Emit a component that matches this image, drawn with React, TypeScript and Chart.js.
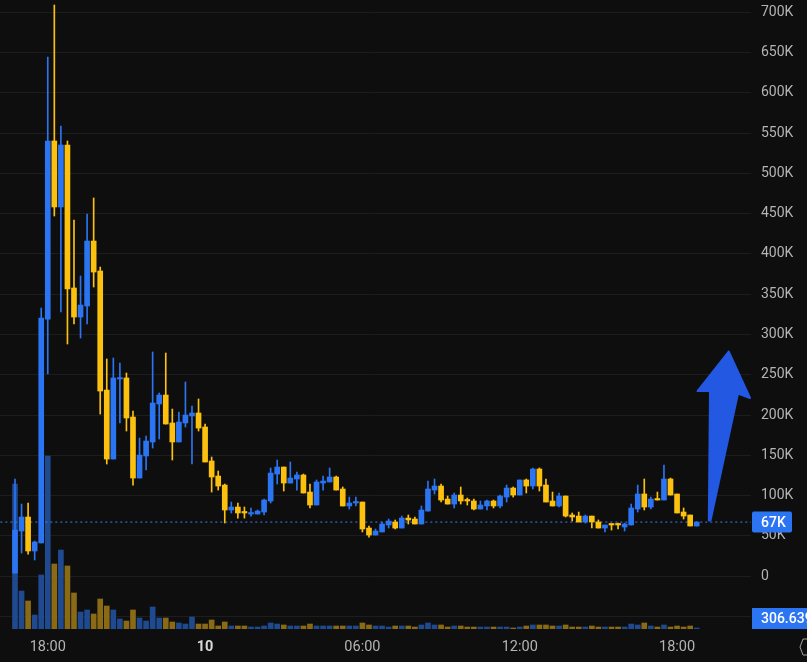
import { useEffect, useRef } from 'react';
import { Chart, registerables } from 'chart.js';

Chart.register(...registerables);

// 15 minute candles, prices in thousands
const opens = [
  3.7, 55.9, 73.3, 31.1, 41.0, 319.2, 540.4, 458.4, 535.4, 357.8, 321.7, 335.4, 416.1, 378.9, 231.0,
  145.3, 244.7, 246.0, 197.5, 121.7, 149.1, 166.5, 213.7, 224.8, 190.1, 166.5, 190.1, 198.8, 202.5, 185.1,
  142.9, 124.2, 113.0, 82.0, 85.7, 79.5, 77.0, 77.0, 79.5, 93.2, 126.7, 135.4, 115.5, 120.5, 125.5,
  104.3, 88.2, 115.5, 116.8, 123.0, 108.1, 87.0, 90.7, 91.9, 59.6, 50.9, 54.7, 63.4, 67.1, 59.6,
  72.0, 70.8, 64.6, 80.7, 106.8, 111.8, 95.6, 89.4, 100.6, 94.4, 93.2, 83.2, 87.0, 93.2, 87.0,
  98.1, 109.3, 100.6, 119.3, 111.8, 132.9, 113.0, 93.2, 87.0, 99.4, 75.8, 74.5, 67.1, 74.5, 67.1,
  59.6, 64.6, 64.6, 60.9, 63.4, 83.2, 101.9, 85.7, 95.6, 94.4, 120.5, 101.9, 79.5, 75.8, 62.1,
];
const highs = [
  120.5, 89.4, 90.7, 43.5, 332.9, 644.7, 709.3, 559.0, 540.4, 442.2, 372.7, 449.7, 469.6, 383.8, 269.6,
  270.8, 264.6, 252.2, 205.0, 171.4, 173.9, 278.3, 227.3, 277.0, 207.4, 203.7, 241.0, 211.2, 219.9, 188.8,
  147.8, 130.4, 114.3, 91.9, 90.7, 85.7, 84.5, 82.0, 95.6, 134.2, 144.1, 135.4, 141.6, 129.2, 126.7,
  114.3, 119.3, 124.2, 134.2, 124.2, 110.6, 98.1, 98.1, 91.9, 62.1, 58.4, 67.1, 70.8, 69.6, 74.5,
  75.8, 73.3, 87.0, 118.0, 120.5, 114.3, 99.4, 103.1, 110.6, 96.9, 95.6, 93.2, 94.4, 94.4, 100.6,
  113.0, 110.6, 119.3, 120.5, 134.2, 134.2, 120.5, 104.3, 103.1, 99.4, 78.3, 79.5, 75.8, 74.5, 69.6,
  63.4, 64.6, 65.8, 65.8, 89.4, 113.0, 120.5, 98.1, 104.3, 137.9, 121.7, 101.9, 84.5, 75.8, 67.1,
];
const lows = [
  3.7, 28.6, 27.3, 19.9, 41.0, 250.9, 447.2, 327.9, 288.2, 313.0, 295.6, 313.0, 359.0, 201.2, 139.1,
  145.3, 190.1, 180.1, 113.0, 121.7, 131.7, 159.0, 170.2, 188.8, 144.1, 166.5, 185.1, 139.1, 180.1, 141.6,
  104.3, 106.8, 65.8, 78.3, 72.0, 72.0, 74.5, 77.0, 75.8, 90.7, 114.3, 105.6, 115.5, 106.8, 103.1,
  84.5, 88.2, 106.8, 116.8, 106.8, 87.0, 83.2, 87.0, 54.7, 48.4, 50.9, 54.7, 59.6, 58.4, 59.6,
  64.6, 64.6, 64.6, 80.7, 101.9, 91.9, 89.4, 84.5, 89.4, 88.2, 82.0, 83.2, 82.0, 84.5, 84.5,
  91.9, 98.1, 100.6, 103.1, 108.1, 105.6, 91.9, 87.0, 85.7, 73.3, 68.3, 67.1, 65.8, 59.6, 59.6,
  54.7, 57.1, 58.4, 55.9, 63.4, 79.5, 82.0, 83.2, 94.4, 94.4, 100.6, 78.3, 70.8, 62.1, 62.1,
];
const closes = [
  57.1, 73.3, 31.1, 42.2, 320.5, 540.4, 458.4, 535.4, 356.5, 321.7, 336.6, 416.1, 377.6, 229.8, 145.3,
  246.0, 246.0, 196.3, 121.7, 150.3, 167.7, 214.9, 224.8, 188.8, 166.5, 191.3, 200.0, 202.5, 183.8, 141.6,
  123.0, 111.8, 82.0, 85.7, 78.3, 78.3, 78.3, 80.7, 94.4, 127.9, 135.4, 115.5, 121.7, 125.5, 103.1,
  88.2, 116.8, 118.0, 123.0, 106.8, 87.0, 90.7, 91.9, 58.4, 50.9, 55.9, 64.6, 68.3, 59.6, 72.0,
  69.6, 64.6, 82.0, 108.1, 111.8, 94.4, 89.4, 100.6, 93.2, 93.2, 83.2, 88.2, 93.2, 87.0, 99.4,
  109.3, 100.6, 119.3, 111.8, 132.9, 111.8, 91.9, 87.0, 99.4, 74.5, 73.3, 67.1, 74.5, 67.1, 59.6,
  63.4, 63.4, 63.4, 64.6, 84.5, 101.9, 85.7, 95.6, 94.4, 120.5, 100.6, 78.3, 74.5, 62.1, 67.1,
];
const volumes = [
  44460, 11650, 8590, 4290, 16560, 53050, 19930, 24220, 19320, 11040, 5210, 5830, 4600, 9200, 7050,
  5830, 3070, 2450, 5830, 3370, 2450, 6750, 3370, 3370, 2150, 1840, 1530, 3680, 1530, 1530,
  2760, 920, 2150, 920, 920, 920, 610, 610, 920, 1840, 1530, 1230, 920, 920, 920,
  1530, 920, 920, 920, 920, 920, 920, 920, 1840, 1230, 920, 920, 610, 920, 920,
  920, 610, 1230, 1840, 1230, 1230, 610, 920, 920, 610, 610, 610, 610, 610, 610,
  610, 310, 610, 920, 1230, 1230, 1230, 920, 920, 1230, 610, 610, 610, 920, 610,
  610, 610, 610, 610, 1530, 1230, 1840, 920, 610, 1230, 610, 920, 610, 920, 307,
];

const priceTicks = [0, 50, 100, 150, 200, 250, 300, 350, 400, 450, 500, 550, 600, 650, 700];
const timeTickIndex = [5, 29, 53, 77, 101];
const timeTickLabels = ['18:00', '10', '06:00', '12:00', '18:00'];
const lastPrice = 67;

const BLUE = '#2b74f2';
const YELLOW = '#fcc10f';
const BLUE_VOL = '#1f4a8f';
const YELLOW_VOL = '#8a6a14';
const TEXT = '#b4b4b4';
const FONT = 'Roboto, sans-serif';

const overlay = {
  id: 'overlay',
  afterDraw(chart: Chart) {
    const { ctx } = chart;
    ctx.save();

    // hand drawn arrow
    ctx.fillStyle = '#2258e2';
    ctx.strokeStyle = '#2258e2';
    ctx.lineWidth = 2;
    ctx.lineJoin = 'round';
    ctx.beginPath();
    ctx.moveTo(728.7, 351.5);
    ctx.lineTo(697.5, 391);
    ctx.lineTo(710, 391);
    ctx.lineTo(708.8, 520.5);
    ctx.lineTo(710.5, 520.5);
    ctx.lineTo(738, 393.5);
    ctx.lineTo(750, 398);
    ctx.closePath();
    ctx.fill();
    ctx.stroke();

    // price tags on the axis
    const tagY = chart.scales.y.getPixelForValue(lastPrice);
    ctx.fillStyle = BLUE;
    ctx.beginPath();
    ctx.roundRect(752, tagY - 10.5, 40, 21, 2);
    ctx.fill();
    ctx.beginPath();
    ctx.rect(752, 608, 55, 21);
    ctx.fill();
    ctx.fillStyle = '#ffffff';
    ctx.font = '500 14px ' + FONT;
    ctx.textAlign = 'left';
    ctx.textBaseline = 'middle';
    ctx.fillText(lastPrice + 'K', 761, tagY + 1);
    ctx.fillText('306.639', 761, 619);

    // scroll button in the corner
    ctx.strokeStyle = '#a0a0a0';
    ctx.lineWidth = 1;
    ctx.beginPath();
    ctx.moveTo(807, 639);
    ctx.lineTo(803, 639);
    ctx.lineTo(800, 647);
    ctx.lineTo(803, 655);
    ctx.lineTo(807, 655);
    ctx.stroke();
    ctx.restore();
  },
};

export default function App() {
  const chartRef = useRef<HTMLCanvasElement>(null);

  useEffect(() => {
    if (!chartRef.current) return;
    document.body.style.margin = '0';
    document.body.style.background = '#0e0e0e';

    const index = opens.map((_, i) => i);
    const isUp = (i: number) => closes[i] >= opens[i];

    const chart = new Chart(chartRef.current, {
      type: 'bar',
      data: {
        datasets: [
          {
            label: 'Price',
            data: index.map(i => ({ x: i, y: [opens[i], closes[i]] })) as any,
            backgroundColor: index.map(i => (isUp(i) ? BLUE : YELLOW)),
            barThickness: 5,
            minBarLength: 1.5,
            grouped: false,
            order: 1,
          },
          {
            label: 'Last',
            type: 'line',
            data: [{ x: -3, y: lastPrice }, { x: 113, y: lastPrice }],
            borderColor: '#3b82f6',
            borderWidth: 1,
            borderDash: [2, 3],
            pointRadius: 0,
            order: 2,
          },
          {
            label: 'Wick',
            data: index.map(i => ({ x: i, y: [lows[i], highs[i]] })) as any,
            backgroundColor: index.map(i => (isUp(i) ? BLUE : YELLOW)),
            barThickness: 1,
            grouped: false,
            order: 3,
          },
          {
            label: 'Volume',
            yAxisID: 'yVol',
            data: index.map(i => ({ x: i, y: volumes[i] })),
            backgroundColor: index.map(i => (isUp(i) ? BLUE_VOL : YELLOW_VOL)),
            barThickness: 5,
            grouped: false,
            order: 4,
          },
        ] as any,
      },
      options: {
        animation: false,
        responsive: false,
        layout: { padding: 0 },
        plugins: { legend: { display: false }, tooltip: { enabled: false } },
        scales: {
          x: {
            type: 'linear',
            offset: false,
            min: -2.288,
            max: 112.28,
            border: { display: false },
            grid: { display: false },
            afterBuildTicks: (axis: any) => {
              axis.ticks = timeTickIndex.map(value => ({ value }));
            },
            afterFit: (axis: any) => {
              axis.height = 33;
              axis.paddingLeft = 0;
              axis.paddingRight = 0;
            },
            ticks: {
              autoSkip: false,
              maxRotation: 0,
              padding: 2,
              color: ctx => (ctx.index === 1 ? '#d8d8d8' : TEXT),
              font: ctx => ({ family: FONT, size: 14.5, weight: ctx.index === 1 ? 'bold' : 'normal' }),
              callback: (value) => timeTickLabels[timeTickIndex.indexOf(Number(value))] ?? '',
            },
          },
          y: {
            position: 'right',
            min: -65.8,
            max: 715.5,
            border: { display: false },
            grid: { color: '#1d1d1d', lineWidth: 1, drawTicks: false },
            afterBuildTicks: (axis: any) => {
              axis.ticks = [-50, ...priceTicks].map(value => ({ value }));
            },
            afterFit: (axis: any) => {
              axis.width = 56;
              axis.paddingTop = 0;
              axis.paddingBottom = 0;
            },
            ticks: {
              color: TEXT,
              padding: 10,
              font: { family: FONT, size: 14 },
              callback: (value) => (Number(value) < 0 ? '' : value === 0 ? '0' : value + 'K'),
            },
          },
          yVol: {
            display: false,
            min: 0,
            max: 192870,
          },
        },
      },
      plugins: [overlay],
    });

    return () => {
      chart.destroy();
    };
  }, []);

  return <canvas ref={chartRef} width={807} height={662} style={{ display: 'block' }} />;
}
